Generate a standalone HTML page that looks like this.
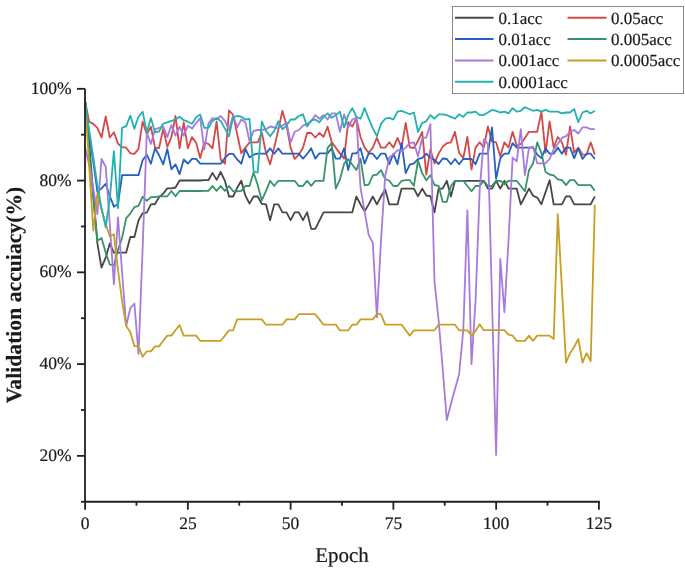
<!DOCTYPE html>
<html><head><meta charset="utf-8"><style>
html,body{margin:0;padding:0;background:#fff;}
body{-webkit-font-smoothing:antialiased;text-rendering:geometricPrecision;width:685px;height:571px;position:relative;overflow:hidden;font-family:"Liberation Serif",serif;color:#1a1a1a;-webkit-text-stroke:0.2px #1a1a1a;}
svg{position:absolute;left:0;top:0;}
.yl{position:absolute;left:0;width:71.5px;text-align:right;font-size:17.5px;line-height:20px;}
.xl{position:absolute;top:512.7px;width:60px;text-align:center;font-size:17.5px;line-height:20px;}
.lg{position:absolute;font-size:17px;line-height:18px;white-space:nowrap;}
.xt{position:absolute;left:292px;top:542.5px;width:100px;text-align:center;font-size:21px;line-height:24px;}
.yt{position:absolute;left:14px;top:295px;width:300px;margin-left:-150px;margin-top:-12px;text-align:center;font-size:21.7px;line-height:24px;font-weight:bold;transform:rotate(-90deg);}
.box{position:absolute;left:452px;top:6px;width:230px;height:86px;border:1px solid #8a8a8a;}
</style></head><body>
<svg width="685" height="571" viewBox="0 0 685 571">
<polyline points="85.1,101.2 89.2,143.9 93.3,194.3 97.4,243.4 101.5,267.7 105.7,257.7 109.8,243.4 113.9,252.6 118.0,252.6 122.1,252.6 126.2,252.6 130.3,237.0 134.4,237.0 138.5,220.5 142.6,213.1 146.8,212.7 150.9,204.4 155.0,204.0 159.1,197.1 163.2,193.6 167.3,188.4 171.4,188.4 175.5,187.5 179.6,180.5 183.7,180.5 187.9,180.5 192.0,180.5 196.1,180.5 200.2,180.5 204.3,180.2 208.4,180.2 212.5,172.9 216.6,179.9 220.7,172.0 224.9,180.8 229.0,196.5 233.1,196.5 237.2,187.8 241.3,180.8 245.4,195.7 249.5,203.6 253.6,196.5 257.7,196.5 261.8,203.9 266.0,204.4 270.1,220.2 274.2,204.4 278.3,204.4 282.4,212.3 286.5,212.3 290.6,220.2 294.7,212.3 298.8,212.3 303.0,220.2 307.1,212.3 311.2,228.9 315.3,228.9 319.4,220.7 323.5,212.3 327.6,212.3 331.7,212.3 335.8,212.3 339.9,212.3 344.1,212.3 348.2,212.3 352.3,212.3 356.4,196.5 360.5,204.4 364.6,211.4 368.7,204.4 372.8,196.5 376.9,204.4 381.0,196.5 385.2,189.5 389.3,204.4 393.4,204.4 397.5,204.4 401.6,188.6 405.7,188.6 409.8,188.6 413.9,188.6 418.0,196.2 422.2,188.6 426.3,195.5 430.4,196.2 434.5,212.3 438.6,188.6 442.7,188.6 446.8,180.8 450.9,196.5 455.0,180.8 459.1,180.8 463.3,180.8 467.4,180.8 471.5,180.8 475.6,180.8 479.7,180.8 483.8,180.8 487.9,188.6 492.0,188.6 496.1,180.8 500.3,188.6 504.4,180.8 508.5,188.6 512.6,188.6 516.7,188.6 520.8,204.4 524.9,196.5 529.0,188.6 533.1,195.7 537.2,197.6 541.4,204.3 545.5,192.4 549.6,180.2 553.7,204.3 557.8,204.3 561.9,204.3 566.0,196.3 570.1,196.3 574.2,204.3 578.3,204.3 582.5,204.3 586.6,204.3 590.7,204.3 594.8,196.3" fill="none" stroke="#474747" stroke-width="1.8" stroke-linejoin="round"/>
<polyline points="85.1,101.2 89.2,121.7 93.3,123.9 97.4,127.9 101.5,137.5 105.7,116.5 109.8,137.5 113.9,132.3 118.0,143.6 122.1,147.2 126.2,147.7 130.3,153.3 134.4,153.8 138.5,148.9 142.6,121.7 146.8,134.3 150.9,126.6 155.0,147.6 159.1,148.0 163.2,128.6 167.3,146.9 171.4,137.1 175.5,116.0 179.6,148.3 183.7,122.3 187.9,148.3 192.0,137.1 196.1,142.7 200.2,158.1 204.3,142.7 208.4,143.8 212.5,148.3 216.6,121.7 220.7,159.5 224.9,163.7 229.0,110.4 233.1,114.6 237.2,134.3 241.3,153.2 245.4,147.6 249.5,142.7 253.6,142.3 257.7,142.3 261.8,132.7 266.0,152.8 270.1,164.2 274.2,147.6 278.3,130.0 282.4,110.8 286.5,125.6 290.6,147.6 294.7,159.0 298.8,154.6 303.0,147.8 307.1,133.0 311.2,133.0 315.3,137.5 319.4,133.0 323.5,136.9 327.6,126.7 331.7,142.1 335.8,147.8 339.9,153.4 344.1,158.6 348.2,122.2 352.3,126.5 356.4,118.7 360.5,137.0 364.6,147.6 368.7,152.8 372.8,147.6 376.9,137.9 381.0,147.6 385.2,147.6 389.3,142.3 393.4,147.6 397.5,137.9 401.6,147.6 405.7,122.8 409.8,147.3 413.9,148.0 418.0,141.0 422.2,131.9 426.3,174.6 430.4,149.4 434.5,163.4 438.6,153.6 442.7,146.6 446.8,143.2 450.9,142.3 455.0,131.8 459.1,152.8 463.3,158.1 467.4,137.0 471.5,169.5 475.6,147.6 479.7,142.3 483.8,147.6 487.9,126.5 492.0,141.4 496.1,142.3 500.3,156.3 504.4,142.3 508.5,147.6 512.6,131.8 516.7,145.8 520.8,144.0 524.9,137.9 529.0,131.8 533.1,131.8 537.2,131.8 541.4,111.6 545.5,152.8 549.6,121.3 553.7,147.6 557.8,137.0 561.9,142.3 566.0,154.6 570.1,126.5 574.2,152.8 578.3,147.6 582.5,154.6 586.6,154.6 590.7,142.3 594.8,154.6" fill="none" stroke="#d64848" stroke-width="1.8" stroke-linejoin="round"/>
<polyline points="85.1,101.2 89.2,134.7 93.3,162.2 97.4,192.0 101.5,188.4 105.7,183.8 109.8,196.2 113.9,206.7 118.0,204.0 122.1,175.2 126.2,175.2 130.3,175.2 134.4,175.2 138.5,175.2 142.6,160.2 146.8,154.6 150.9,163.7 155.0,148.3 159.1,155.3 163.2,164.4 167.3,149.0 171.4,169.3 175.5,164.4 179.6,174.2 183.7,159.5 187.9,163.7 192.0,158.8 196.1,158.8 200.2,163.7 204.3,163.7 208.4,163.7 212.5,163.7 216.6,163.7 220.7,163.7 224.9,158.1 229.0,153.9 233.1,153.9 237.2,159.5 241.3,163.7 245.4,149.0 249.5,157.4 253.6,154.6 257.7,153.7 261.8,153.7 266.0,153.7 270.1,148.4 274.2,153.7 278.3,148.4 282.4,153.7 286.5,153.7 290.6,153.7 294.7,153.7 298.8,153.7 303.0,158.6 307.1,154.0 311.2,148.3 315.3,158.6 319.4,153.4 323.5,153.4 327.6,153.4 331.7,148.3 335.8,158.6 339.9,158.6 344.1,148.3 348.2,170.0 352.3,153.4 356.4,153.4 360.5,148.3 364.6,163.7 368.7,153.4 372.8,153.7 376.9,159.0 381.0,153.7 385.2,153.7 389.3,164.2 393.4,153.7 397.5,164.2 401.6,143.2 405.7,173.1 409.8,164.7 413.9,163.4 418.0,159.1 422.2,157.8 426.3,153.6 430.4,157.8 434.5,159.9 438.6,164.0 442.7,158.5 446.8,159.0 450.9,164.2 455.0,159.0 459.1,164.2 463.3,159.0 467.4,159.0 471.5,159.0 475.6,164.2 479.7,153.7 483.8,153.7 487.9,153.7 492.0,127.3 496.1,178.7 500.3,158.1 504.4,153.7 508.5,153.7 512.6,143.2 516.7,147.6 520.8,147.6 524.9,147.6 529.0,147.6 533.1,147.6 537.2,154.6 541.4,158.1 545.5,148.4 549.6,153.7 553.7,153.7 557.8,147.6 561.9,153.7 566.0,147.6 570.1,147.6 574.2,158.1 578.3,148.4 582.5,159.0 586.6,153.7 590.7,153.7 594.8,159.0" fill="none" stroke="#2360c2" stroke-width="1.8" stroke-linejoin="round"/>
<polyline points="85.1,101.2 89.2,153.0 93.3,198.9 97.4,240.7 101.5,237.9 105.7,252.6 109.8,264.5 113.9,265.5 118.0,249.9 122.1,237.9 126.2,218.2 130.3,213.6 134.4,207.2 138.5,205.8 142.6,196.6 146.8,200.8 150.9,197.1 155.0,197.1 159.1,196.3 163.2,196.3 167.3,196.3 171.4,191.0 175.5,196.3 179.6,191.0 183.7,191.0 187.9,191.0 192.0,191.0 196.1,191.0 200.2,191.0 204.3,190.9 208.4,190.9 212.5,186.0 216.6,190.9 220.7,186.0 224.9,190.9 229.0,186.0 233.1,191.3 237.2,191.3 241.3,190.9 245.4,186.0 249.5,186.0 253.6,172.5 257.7,185.0 261.8,200.4 266.0,190.9 270.1,180.8 274.2,186.0 278.3,180.8 282.4,180.8 286.5,180.8 290.6,180.8 294.7,180.8 298.8,186.0 303.0,185.9 307.1,180.8 311.2,185.9 315.3,180.8 319.4,180.8 323.5,180.8 327.6,147.8 331.7,143.2 335.8,188.7 339.9,179.6 344.1,163.7 348.2,159.1 352.3,164.8 356.4,170.0 360.5,158.6 364.6,185.3 368.7,184.7 372.8,175.5 376.9,174.6 381.0,170.2 385.2,179.0 389.3,180.8 393.4,186.0 397.5,186.0 401.6,180.8 405.7,180.2 409.8,180.2 413.9,185.8 418.0,160.6 422.2,173.1 426.3,180.2 430.4,175.2 434.5,185.0 438.6,185.8 442.7,201.8 446.8,201.8 450.9,186.0 455.0,180.8 459.1,180.8 463.3,180.8 467.4,186.0 471.5,191.3 475.6,186.0 479.7,186.0 483.8,180.8 487.9,186.0 492.0,186.0 496.1,180.8 500.3,180.8 504.4,184.3 508.5,180.8 512.6,180.8 516.7,180.8 520.8,186.0 524.9,191.3 529.0,170.2 533.1,163.3 537.2,142.3 541.4,152.8 545.5,171.9 549.6,174.5 553.7,175.4 557.8,179.3 561.9,180.2 566.0,185.1 570.1,180.2 574.2,180.2 578.3,185.1 582.5,185.1 586.6,185.1 590.7,185.1 594.8,190.8" fill="none" stroke="#379468" stroke-width="1.8" stroke-linejoin="round"/>
<polyline points="85.1,147.5 89.2,165.0 93.3,188.4 97.4,214.1 101.5,159.0 105.7,166.8 109.8,224.2 113.9,284.3 118.0,217.3 122.1,272.3 126.2,326.0 130.3,308.1 134.4,303.5 138.5,354.0 142.6,249.4 146.8,132.8 150.9,144.0 155.0,129.4 159.1,127.9 163.2,126.6 167.3,137.1 171.4,125.1 175.5,135.6 179.6,126.6 183.7,135.6 187.9,125.8 192.0,128.6 196.1,123.0 200.2,118.1 204.3,149.7 208.4,123.7 212.5,118.1 216.6,119.5 220.7,116.0 224.9,120.9 229.0,130.0 233.1,115.3 237.2,127.3 241.3,119.5 245.4,122.3 249.5,141.2 253.6,130.9 257.7,130.0 261.8,130.0 266.0,129.2 270.1,126.5 274.2,127.4 278.3,128.3 282.4,125.6 286.5,123.0 290.6,142.3 294.7,131.8 298.8,130.0 303.0,125.6 307.1,123.9 311.2,121.3 315.3,115.1 319.4,118.7 323.5,115.1 327.6,119.5 331.7,113.4 335.8,113.4 339.9,131.8 344.1,114.3 348.2,127.4 352.3,119.5 356.4,117.8 360.5,187.7 364.6,211.3 368.7,234.9 372.8,242.8 376.9,317.3 381.0,240.2 385.2,176.0 389.3,157.6 393.4,154.6 397.5,150.2 401.6,151.1 405.7,147.6 409.8,143.1 413.9,142.4 418.0,156.4 422.2,138.2 426.3,137.5 430.4,124.2 434.5,281.5 438.6,320.1 442.7,368.7 446.8,420.1 450.9,404.0 455.0,388.9 459.1,374.2 463.3,330.1 467.4,210.4 471.5,364.1 475.6,299.9 479.7,189.7 483.8,139.3 487.9,143.9 492.0,300.3 496.1,454.9 500.3,259.0 504.4,312.3 508.5,241.1 512.6,157.6 516.7,161.3 520.8,129.2 524.9,175.1 529.0,147.6 533.1,146.7 537.2,163.3 541.4,163.3 545.5,163.3 549.6,159.0 553.7,149.3 557.8,144.0 561.9,137.9 566.0,136.2 570.1,131.8 574.2,130.0 578.3,133.5 582.5,127.4 586.6,127.4 590.7,129.2 594.8,129.2" fill="none" stroke="#a67ade" stroke-width="1.8" stroke-linejoin="round"/>
<polyline points="85.1,101.2 89.2,166.8 93.3,230.6 97.4,193.4 101.5,209.5 105.7,223.7 109.8,236.5 113.9,234.3 118.0,270.0 122.1,301.2 126.2,326.0 130.3,332.0 134.4,346.1 138.5,346.1 142.6,356.6 146.8,351.3 150.9,351.3 155.0,346.4 159.1,346.4 163.2,340.8 167.3,335.6 171.4,335.6 175.5,330.3 179.6,325.1 183.7,335.6 187.9,335.6 192.0,335.6 196.1,335.6 200.2,340.8 204.3,340.8 208.4,340.8 212.5,340.8 216.6,340.8 220.7,340.8 224.9,335.6 229.0,330.3 233.1,330.3 237.2,319.4 241.3,319.4 245.4,319.4 249.5,319.4 253.6,319.4 257.7,319.4 261.8,319.4 266.0,324.7 270.1,324.7 274.2,324.7 278.3,324.7 282.4,324.7 286.5,319.4 290.6,319.4 294.7,319.4 298.8,314.2 303.0,314.2 307.1,314.2 311.2,314.2 315.3,314.2 319.4,319.4 323.5,324.7 327.6,324.7 331.7,324.7 335.8,324.7 339.9,330.3 344.1,330.3 348.2,330.3 352.3,324.7 356.4,324.7 360.5,319.4 364.6,319.4 368.7,319.4 372.8,319.4 376.9,314.2 381.0,314.2 385.2,324.7 389.3,324.7 393.4,324.7 397.5,324.7 401.6,324.7 405.7,330.3 409.8,335.6 413.9,330.3 418.0,330.3 422.2,330.3 426.3,330.3 430.4,330.3 434.5,330.3 438.6,324.7 442.7,324.7 446.8,324.7 450.9,324.7 455.0,324.7 459.1,330.3 463.3,330.3 467.4,330.3 471.5,335.6 475.6,330.8 479.7,324.2 483.8,330.2 487.9,330.2 492.0,330.2 496.1,330.2 500.3,330.2 504.4,330.2 508.5,334.6 512.6,335.6 516.7,340.9 520.8,340.9 524.9,340.9 529.0,335.6 533.1,340.9 537.2,335.6 541.4,335.6 545.5,335.6 549.6,335.6 553.7,339.0 557.8,214.2 561.9,288.4 566.0,362.6 570.1,353.2 574.2,346.8 578.3,339.0 582.5,362.6 586.6,353.2 590.7,361.1 594.8,204.7" fill="none" stroke="#c89f24" stroke-width="1.8" stroke-linejoin="round"/>
<polyline points="85.1,101.2 89.2,130.1 93.3,157.6 97.4,185.2 101.5,208.1 105.7,227.4 109.8,198.9 113.9,151.2 118.0,208.1 122.1,127.8 126.2,126.1 130.3,115.6 134.4,128.8 138.5,116.5 142.6,111.8 146.8,132.2 150.9,118.1 155.0,132.2 159.1,131.5 163.2,123.7 167.3,122.3 171.4,120.9 175.5,119.5 179.6,116.7 183.7,120.2 187.9,121.7 192.0,123.7 196.1,117.4 200.2,114.6 204.3,127.9 208.4,127.9 212.5,120.9 216.6,118.1 220.7,120.9 224.9,128.6 229.0,136.3 233.1,117.4 237.2,116.0 241.3,116.7 245.4,119.5 249.5,118.9 253.6,171.5 257.7,172.5 261.8,121.3 266.0,130.9 270.1,136.2 274.2,130.9 278.3,121.3 282.4,129.2 286.5,125.6 290.6,119.5 294.7,119.5 298.8,116.0 303.0,114.3 307.1,126.5 311.2,120.4 315.3,119.5 319.4,122.2 323.5,116.9 327.6,113.4 331.7,117.8 335.8,115.1 339.9,111.6 344.1,127.4 348.2,115.1 352.3,108.1 356.4,116.9 360.5,118.7 364.6,108.1 368.7,118.7 372.8,128.3 376.9,136.2 381.0,123.9 385.2,118.7 389.3,117.8 393.4,119.5 397.5,111.6 401.6,110.8 405.7,112.5 409.8,114.3 413.9,112.5 418.0,131.8 422.2,123.0 426.3,121.3 430.4,115.1 434.5,118.7 438.6,114.3 442.7,114.3 446.8,115.1 450.9,116.9 455.0,118.7 459.1,114.3 463.3,116.9 467.4,112.5 471.5,112.5 475.6,111.6 479.7,115.1 483.8,115.1 487.9,112.5 492.0,109.9 496.1,110.8 500.3,112.5 504.4,111.6 508.5,113.4 512.6,108.1 516.7,111.6 520.8,110.8 524.9,107.2 529.0,109.0 533.1,110.8 537.2,109.9 541.4,111.6 545.5,109.9 549.6,111.6 553.7,111.6 557.8,111.6 561.9,113.4 566.0,112.5 570.1,112.5 574.2,109.0 578.3,122.2 582.5,112.5 586.6,110.8 590.7,113.4 594.8,110.8" fill="none" stroke="#22b1ae" stroke-width="1.8" stroke-linejoin="round"/>
<path d="M85 88.8 V502.7 M84.1 501.75 H599.9" stroke="#202020" stroke-width="1.8" fill="none"/>
<path d="M77 455.87 H85" stroke="#202020" stroke-width="1.8"/>
<path d="M77 364.10 H85" stroke="#202020" stroke-width="1.8"/>
<path d="M77 272.33 H85" stroke="#202020" stroke-width="1.8"/>
<path d="M77 180.57 H85" stroke="#202020" stroke-width="1.8"/>
<path d="M77 88.80 H85" stroke="#202020" stroke-width="1.8"/>
<path d="M81 501.75 H85" stroke="#202020" stroke-width="1.8"/>
<path d="M81 409.98 H85" stroke="#202020" stroke-width="1.8"/>
<path d="M81 318.22 H85" stroke="#202020" stroke-width="1.8"/>
<path d="M81 226.45 H85" stroke="#202020" stroke-width="1.8"/>
<path d="M81 134.68 H85" stroke="#202020" stroke-width="1.8"/>
<path d="M85.10 501.75 V509.7" stroke="#202020" stroke-width="1.8"/>
<path d="M187.86 501.75 V509.7" stroke="#202020" stroke-width="1.8"/>
<path d="M290.62 501.75 V509.7" stroke="#202020" stroke-width="1.8"/>
<path d="M393.38 501.75 V509.7" stroke="#202020" stroke-width="1.8"/>
<path d="M496.14 501.75 V509.7" stroke="#202020" stroke-width="1.8"/>
<path d="M598.90 501.75 V509.7" stroke="#202020" stroke-width="1.8"/>
<path d="M136.48 501.75 V505.7" stroke="#202020" stroke-width="1.8"/>
<path d="M239.24 501.75 V505.7" stroke="#202020" stroke-width="1.8"/>
<path d="M342.00 501.75 V505.7" stroke="#202020" stroke-width="1.8"/>
<path d="M444.76 501.75 V505.7" stroke="#202020" stroke-width="1.8"/>
<path d="M547.52 501.75 V505.7" stroke="#202020" stroke-width="1.8"/>
<path d="M455 17.65 H493.5" stroke="#474747" stroke-width="2"/>
<path d="M567.5 17.65 H606.5" stroke="#d64848" stroke-width="2"/>
<path d="M455 39.019999999999996 H493.5" stroke="#2360c2" stroke-width="2"/>
<path d="M567.5 39.019999999999996 H606.5" stroke="#379468" stroke-width="2"/>
<path d="M455 60.39 H493.5" stroke="#a67ade" stroke-width="2"/>
<path d="M567.5 60.39 H606.5" stroke="#c89f24" stroke-width="2"/>
<path d="M455 81.75999999999999 H493.5" stroke="#22b1ae" stroke-width="2"/>
</svg>
<div style="position:absolute;left:0;top:0;width:685px;height:571px;will-change:transform">
<div class="box"></div>
<div class="yl" style="top:444.9px">20%</div>
<div class="yl" style="top:353.1px">40%</div>
<div class="yl" style="top:261.3px">60%</div>
<div class="yl" style="top:169.6px">80%</div>
<div class="yl" style="top:77.8px">100%</div>
<div class="xl" style="left:55.1px">0</div>
<div class="xl" style="left:157.9px">25</div>
<div class="xl" style="left:260.6px">50</div>
<div class="xl" style="left:363.4px">75</div>
<div class="xl" style="left:466.1px">100</div>
<div class="xl" style="left:568.9px">125</div>
<div class="lg" style="left:498.5px;top:9.6px">0.1acc</div>
<div class="lg" style="left:611px;top:9.6px">0.05acc</div>
<div class="lg" style="left:498.5px;top:31.0px">0.01acc</div>
<div class="lg" style="left:611px;top:31.0px">0.005acc</div>
<div class="lg" style="left:498.5px;top:52.4px">0.001acc</div>
<div class="lg" style="left:611px;top:52.4px">0.0005acc</div>
<div class="lg" style="left:498.5px;top:73.8px">0.0001acc</div>
<div class="xt">Epoch</div>
<div class="yt">Validation accuiacy(%)</div>
</div>
</body></html>
